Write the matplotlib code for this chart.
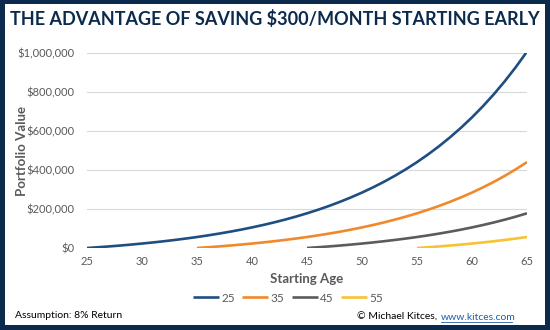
import matplotlib.pyplot as plt
from matplotlib.patches import Rectangle
from matplotlib.ticker import FuncFormatter

# portfolio value (thousands of $) after each year of saving
start_ages = [25, 35, 45, 55]
value_25 = [0, 3.9, 8.1, 12.6, 17.5, 22.8, 28.5, 34.7, 41.4, 48.6, 56.3, 64.7, 73.8,
            83.6, 94.1, 105.6, 117.9, 131.2, 145.6, 161.1, 177.9, 196.0, 215.6, 236.8,
            259.6, 284.2, 310.9, 339.6, 370.7, 404.2, 440.4, 479.6, 521.8, 567.4,
            616.7, 669.9, 727.4, 789.5, 856.6, 929.0, 1007.2]
value_35 = [0, 3.9, 8.1, 12.6, 17.5, 22.8, 28.5, 34.7, 41.4, 48.6, 56.3, 64.7, 73.8,
            83.6, 94.1, 105.6, 117.9, 131.2, 145.6, 161.1, 177.9, 196.0, 215.6, 236.8,
            259.6, 284.2, 310.9, 339.6, 370.7, 404.2, 440.4]
value_45 = [0, 3.9, 8.1, 12.6, 17.5, 22.8, 28.5, 34.7, 41.4, 48.6, 56.3, 64.7, 73.8,
            83.6, 94.1, 105.6, 117.9, 131.2, 145.6, 161.1, 177.9]
value_55 = [0, 3.9, 8.1, 12.6, 17.5, 22.8, 28.5, 34.7, 41.4, 48.6, 56.3]
series = [value_25, value_35, value_45, value_55]
colors = ['#1F4E82', '#F0892C', '#595D60', '#F7C333']

x_ticks = list(range(25, 70, 5))
y_ticks = [0, 200000, 400000, 600000, 800000, 1000000]

NAVY = '#0B2A4C'
GRAY = '#595959'
plt.rcParams['font.family'] = ['Lato', 'DejaVu Sans']

fig = plt.figure(figsize=(5.5, 3.3), dpi=100)
fig.patch.set_facecolor(NAVY)
W, H = 550, 330
fig.patches.append(Rectangle((5 / W, 5 / H), 540 / W, 321 / H, transform=fig.transFigure,
                             facecolor='white', edgecolor='none', zorder=-10))

ax = fig.add_axes([87 / W, 1 - 248 / H, 440 / W, 195 / H])
ax.set_facecolor('none')
for age, vals, c in zip(start_ages, series, colors):
    xs = [age + i for i in range(len(vals))]
    ax.plot(xs, [v * 1000 for v in vals], color=c, lw=1.9, label=str(age),
            solid_capstyle='butt')

ax.set_xlim(25, 65)
ax.set_ylim(0, 1000000)
ax.set_xticks(x_ticks)
ax.set_yticks(y_ticks)
ax.yaxis.set_major_formatter(FuncFormatter(lambda v, p: f'${v:,.0f}'))
ax.grid(axis='y', color='#D9D9D9', lw=0.8)
ax.set_axisbelow(True)
for s in ax.spines.values():
    s.set_visible(False)
ax.tick_params(length=0, colors=GRAY, labelsize=8, pad=6)
ax.tick_params(axis='y', pad=9)
ax.set_xlabel('Starting Age', color=GRAY, fontsize=9.5, fontweight='bold', labelpad=4)
ax.set_ylabel('Portfolio Value', color=GRAY, fontsize=9.5, fontweight='bold')
ax.yaxis.set_label_coords(-(87 - 28) / 440, 0.5)

ax.legend(loc='center', bbox_to_anchor=(288 / W, 1 - 298 / H), bbox_transform=fig.transFigure,
          ncol=4, frameon=False, fontsize=8.5, handlelength=2.2, handletextpad=0.2,
          columnspacing=0.6, labelcolor=GRAY)

fig.text(0.5, 1 - 19 / H, 'THE ADVANTAGE OF SAVING $300/MONTH STARTING EARLY',
         ha='center', va='center', fontsize=13, fontweight='bold', color=NAVY)
fig.text(15 / W, 1 - 316 / H, 'Assumption: 8% Return', ha='left', va='center',
         fontsize=7.5, color='black')
fig.text(441 / W, 1 - 317 / H, 'www.kitces.com', ha='left', va='center',
         fontsize=7.5, color='#1F5FA8')
fig.text(440 / W, 1 - 317 / H, '© Michael Kitces, ', ha='right', va='center',
         fontsize=7.5, color='black')
fig.lines.append(plt.Line2D([441 / W, 512 / W], [1 - 322 / H, 1 - 322 / H],
                            transform=fig.transFigure, color='#1F5FA8', lw=0.6))

fig.savefig('out.png', dpi=100, facecolor=fig.get_facecolor())
